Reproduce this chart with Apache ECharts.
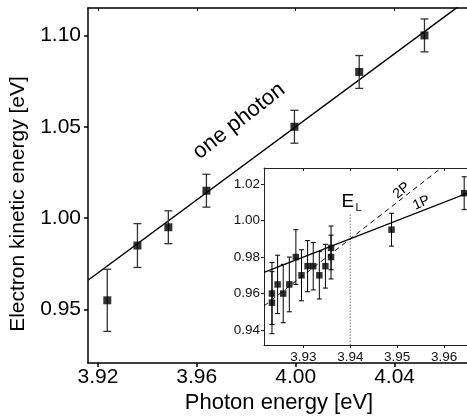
<!DOCTYPE html>
<html><head><meta charset="utf-8">
<script src="https://cdn.jsdelivr.net/npm/echarts@6/dist/echarts.min.js"></script>
<style>html,body{margin:0;padding:0;background:#fff}#c{width:467px;height:420px}</style>
</head><body><div id="c"></div>
<script>
// ---- main panel data ----
const mainX = [3.9238, 3.9360, 3.9485, 3.9639, 3.9995, 4.0257, 4.0521];
const mainY = [0.955, 0.985, 0.995, 1.015, 1.050, 1.080, 1.100];
const mainErr = [0.017, 0.012, 0.009, 0.009, 0.009, 0.009, 0.009];
const fitX = [3.916, 4.0693];
const fitY = [0.966, 1.1193];
const mainXTicks = [3.92, 3.96, 4.00, 4.04];
const mainYTicks = [0.95, 1.00, 1.05, 1.10];

// ---- inset data ----
const insetX = [3.9233, 3.9233, 3.9245, 3.9257, 3.9270, 3.9284, 3.9296, 3.9309, 3.9321, 3.9334, 3.9347, 3.9359, 3.9359, 3.9488, 3.9643];
const insetY = [0.960, 0.955, 0.965, 0.960, 0.965, 0.980, 0.970, 0.975, 0.975, 0.970, 0.975, 0.985, 0.980, 0.995, 1.015];
const insetErr = [0.017, 0.017, 0.016, 0.016, 0.015, 0.015, 0.014, 0.014, 0.013, 0.013, 0.012, 0.012, 0.012, 0.009, 0.009];
const onePX = [3.9216, 3.9649];
const onePY = [0.9716, 1.0149];
const twoPX = [3.9216, 3.9594];
const twoPY = [0.9532, 1.0288];
const elX = [3.94, 3.94];
const elY = [0.9318, 1.0037];
const insetXTicks = [3.93, 3.94, 3.95, 3.96];
const insetYTicks = [0.94, 0.96, 0.98, 1.00, 1.02];

const FONT = 'Liberation Sans, Arial, sans-serif';
const zip = (a, b) => a.map((v, i) => [v, b[i]]);
const zip3 = (a, b, c) => a.map((v, i) => [v, b[i], c[i]]);

function errRender(cap, width, color) {
  return function (params, api) {
    const x = api.value(0), y = api.value(1), e = api.value(2);
    const t = api.coord([x, y + e]), b = api.coord([x, y - e]);
    const style = { stroke: color, lineWidth: width };
    return { type: 'group', children: [
      { type: 'line', shape: { x1: t[0], y1: t[1], x2: b[0], y2: b[1] }, style },
      { type: 'line', shape: { x1: t[0] - cap, y1: t[1], x2: t[0] + cap, y2: t[1] }, style },
      { type: 'line', shape: { x1: b[0] - cap, y1: b[1], x2: b[0] + cap, y2: b[1] }, style }
    ]};
  };
}

const chart = echarts.init(document.getElementById('c'), null, { renderer: 'canvas' });
const f2 = v => v.toFixed(2);

chart.setOption({
  animation: false,
  backgroundColor: '#fff',
  grid: [
    { left: 88, top: 8, right: 0, bottom: 57, z: 0 },
    { left: 264, top: 168, right: 0, bottom: 75, show: true, backgroundColor: '#fff', borderWidth: 0, z: 5 }
  ],
  xAxis: [
    { gridIndex: 0, type: 'value', min: 3.916, max: 4.0693, position: 'bottom',
      axisLine: { show: true, lineStyle: { color: '#000', width: 1.5 } },
      axisTick: { show: true, inside: false, length: 4, customValues: mainXTicks, lineStyle: { color: '#000', width: 1.5 } },
      axisLabel: { customValues: mainXTicks, formatter: f2, color: '#000', fontSize: 21, fontFamily: FONT, margin: 4 },
      splitLine: { show: false } },
    { gridIndex: 0, type: 'value', min: 3.916, max: 4.0693, position: 'top',
      axisLine: { show: true, lineStyle: { color: '#000', width: 1.5 } },
      axisTick: { show: true, inside: true, length: 3, customValues: mainXTicks, lineStyle: { color: '#000', width: 1 } },
      axisLabel: { show: false }, splitLine: { show: false } },
    { gridIndex: 1, type: 'value', min: 3.9216, max: 3.9649, position: 'bottom', z: 6,
      axisLine: { show: true, lineStyle: { color: '#222', width: 1 } },
      axisTick: { show: true, inside: false, length: 3, customValues: insetXTicks, lineStyle: { color: '#222', width: 1 } },
      axisLabel: { customValues: insetXTicks, formatter: f2, color: '#111', fontSize: 13.5, fontFamily: FONT, margin: 5 },
      splitLine: { show: false } },
    { gridIndex: 1, type: 'value', min: 3.9216, max: 3.9649, position: 'top', z: 6,
      axisLine: { show: true, lineStyle: { color: '#222', width: 1 } },
      axisTick: { show: true, inside: true, length: 3, customValues: insetXTicks, lineStyle: { color: '#222', width: 1 } },
      axisLabel: { show: false }, splitLine: { show: false } }
  ],
  yAxis: [
    { gridIndex: 0, type: 'value', min: 0.9207, max: 1.115, position: 'left',
      axisLine: { show: true, lineStyle: { color: '#000', width: 1.5 } },
      axisTick: { show: true, inside: false, length: 4, customValues: mainYTicks, lineStyle: { color: '#000', width: 1.5 } },
      axisLabel: { customValues: mainYTicks, formatter: f2, color: '#000', fontSize: 21, fontFamily: FONT, margin: 7 },
      splitLine: { show: false } },
    { gridIndex: 1, type: 'value', min: 0.9318, max: 1.0288, position: 'left', z: 6,
      axisLine: { show: true, lineStyle: { color: '#222', width: 1 } },
      axisTick: { show: true, inside: false, length: 3, customValues: insetYTicks, lineStyle: { color: '#222', width: 1 } },
      axisLabel: { customValues: insetYTicks, formatter: f2, color: '#111', fontSize: 13.5, fontFamily: FONT, margin: 4 },
      splitLine: { show: false } }
  ],
  series: [
    { type: 'line', xAxisIndex: 0, yAxisIndex: 0, data: zip(fitX, fitY), symbol: 'none',
      lineStyle: { color: '#000', width: 1.5 }, z: 2 },
    { type: 'custom', xAxisIndex: 0, yAxisIndex: 0, data: zip3(mainX, mainY, mainErr),
      renderItem: errRender(4, 1.3, '#333'), encode: { x: 0, y: 1 }, z: 3 },
    { type: 'scatter', xAxisIndex: 0, yAxisIndex: 0, data: zip(mainX, mainY), symbol: 'rect', symbolSize: 8,
      itemStyle: { color: '#000' }, z: 4 },

    { type: 'line', xAxisIndex: 2, yAxisIndex: 1, data: zip(elX, elY), symbol: 'none',
      lineStyle: { color: '#777', width: 1, type: [1.5, 1.5] }, z: 7 },
    { type: 'line', xAxisIndex: 2, yAxisIndex: 1, data: zip(twoPX, twoPY), symbol: 'none',
      lineStyle: { color: '#000', width: 1, type: [5, 4] }, z: 7 },
    { type: 'line', xAxisIndex: 2, yAxisIndex: 1, data: zip(onePX, onePY), symbol: 'none',
      lineStyle: { color: '#000', width: 1.2 }, z: 7 },
    { type: 'custom', xAxisIndex: 2, yAxisIndex: 1, data: zip3(insetX, insetY, insetErr),
      renderItem: errRender(2.5, 1, '#000'), encode: { x: 0, y: 1 }, z: 8 },
    { type: 'scatter', xAxisIndex: 2, yAxisIndex: 1, data: zip(insetX, insetY), symbol: 'rect', symbolSize: 6.5,
      itemStyle: { color: '#000' }, z: 9 }
  ],
  graphic: [
    { type: 'text', x: 18, y: 204, rotation: Math.PI / 2, z: 20,
      style: { text: 'Electron kinetic energy [eV]', fontSize: 21, fontFamily: FONT, fill: '#000', align: 'center', verticalAlign: 'middle' } },
    { type: 'text', x: 279, y: 403, z: 20,
      style: { text: 'Photon energy [eV]', fontSize: 22, fontFamily: FONT, fill: '#000', align: 'center', verticalAlign: 'middle' } },
    { type: 'text', x: 239, y: 121, rotation: 38 * Math.PI / 180, z: 20,
      style: { text: 'one photon', fontSize: 22, fontFamily: FONT, fill: '#000', align: 'center', verticalAlign: 'middle' } },
    { type: 'text', x: 341.5, y: 202, z: 20,
      style: { text: 'E', fontSize: 19, fontFamily: FONT, fill: '#000', align: 'left', verticalAlign: 'middle' } },
    { type: 'text', x: 355.5, y: 207.5, z: 20,
      style: { text: 'L', fontSize: 11, fontFamily: FONT, fill: '#000', align: 'left', verticalAlign: 'middle' } },
    { type: 'text', x: 401.5, y: 190.5, rotation: 40 * Math.PI / 180, z: 20,
      style: { text: '2P', fontSize: 14, fontFamily: FONT, fill: '#000', align: 'center', verticalAlign: 'middle' } },
    { type: 'text', x: 421.5, y: 203, rotation: 24 * Math.PI / 180, z: 20,
      style: { text: '1P', fontSize: 14, fontFamily: FONT, fill: '#000', align: 'center', verticalAlign: 'middle' } }
  ]
});
</script>
</body></html>
